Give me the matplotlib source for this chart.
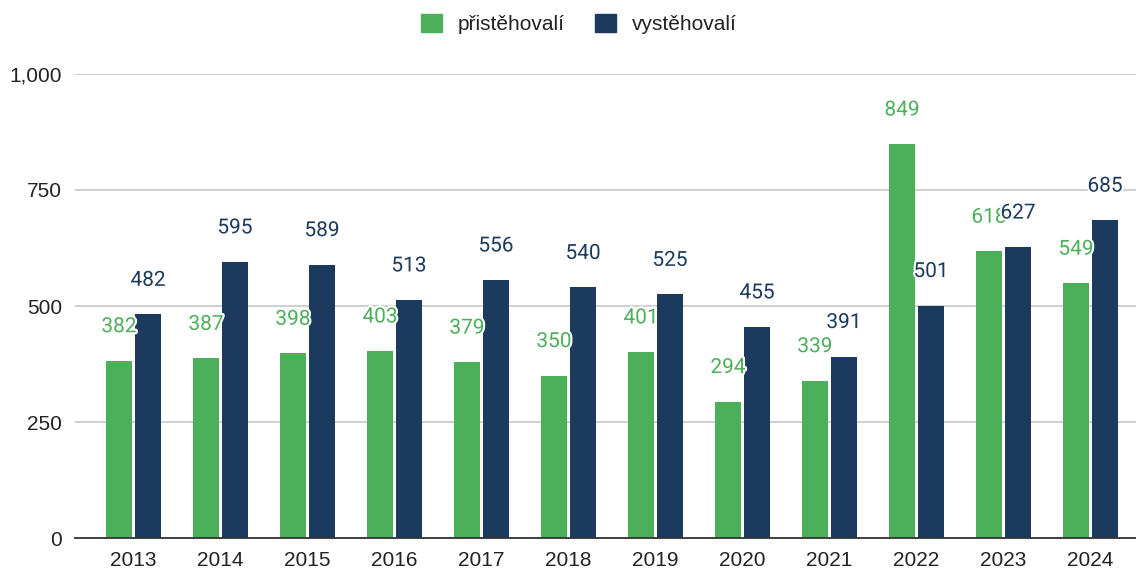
import matplotlib
matplotlib.use("Agg")
import matplotlib.pyplot as plt
import matplotlib.patheffects as pe
from matplotlib.patches import Patch
import numpy as np

years = ["2013", "2014", "2015", "2016", "2017", "2018", "2019", "2020", "2021", "2022", "2023", "2024"]
immigrants = [382, 387, 398, 403, 379, 350, 401, 294, 339, 849, 618, 549]
emigrants = [482, 595, 589, 513, 556, 540, 525, 455, 391, 501, 627, 685]
series_names = ["přistěhovalí", "vystěhovalí"]
y_ticks = [0, 250, 500, 750, 1000]

GREEN = "#4caf5a"
NAVY = "#1b3a5d"

W, H = 1136, 569
fig = plt.figure(figsize=(W / 100, H / 100), dpi=100)
ax = fig.add_axes([75 / W, (H - 538) / H, 1 - 75 / W, (538 - 74) / H])

x = np.arange(len(years))
bw = 0.30
off = 0.167
b1 = ax.bar(x - off, immigrants, bw, color=GREEN, zorder=2)
b2 = ax.bar(x + off, emigrants, bw, color=NAVY, zorder=2)

ax.set_xlim(-0.672, 11.523)
ax.set_ylim(0, 1000)
ax.set_yticks(y_ticks)
ax.set_yticklabels([f"{v:,}" for v in y_ticks])
ax.set_xticks(x)
ax.set_xticklabels(years)

for lab in ax.get_yticklabels() + ax.get_xticklabels():
    lab.set_fontfamily("Liberation Sans")
    lab.set_fontsize(15)
    lab.set_color("#222222")
ax.tick_params(axis="both", length=0)
ax.tick_params(axis="y", pad=9.4)
ax.tick_params(axis="x", pad=9.0)

ax.grid(axis="y", color="#cccccc", linewidth=1.3, zorder=0)
ax.set_axisbelow(True)
for s in ["top", "right", "left"]:
    ax.spines[s].set_visible(False)
ax.spines["bottom"].set_color("#333333")
ax.spines["bottom"].set_linewidth(1.3)
ax.spines["bottom"].set_zorder(3)

stroke = [pe.withStroke(linewidth=3, foreground="white")]
for xi, v in zip(x - off, immigrants):
    ax.annotate(str(v), (xi, v), xytext=(0, 24.5), textcoords="offset points",
                ha="center", va="center", fontsize=15, family="Roboto",
                color=GREEN, path_effects=stroke, zorder=5, annotation_clip=False)
for xi, v in zip(x + off, emigrants):
    ax.annotate(str(v), (xi, v), xytext=(0, 24.5), textcoords="offset points",
                ha="center", va="center", fontsize=15, family="Roboto",
                color=NAVY, path_effects=stroke, zorder=6, annotation_clip=False)

handles = [Patch(facecolor=GREEN, edgecolor=GREEN, label=series_names[0]),
           Patch(facecolor=NAVY, edgecolor=NAVY, label=series_names[1])]
fig.legend(handles=handles, loc="center", bbox_to_anchor=(579 / W, 1 - 24 / H),
           ncol=2, frameon=False, prop=dict(family="Liberation Sans", size=15),
           handlelength=1.0, handleheight=1.0, handletextpad=0.77, columnspacing=1.44,
           labelcolor="#222222")

fig.savefig("out.png", dpi=100)
